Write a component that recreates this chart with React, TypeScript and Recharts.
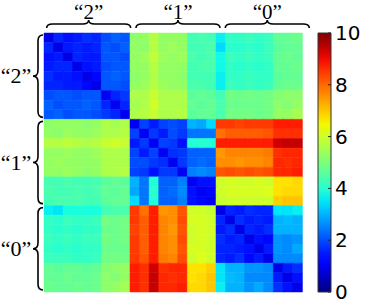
import { BarChart, Bar, Cell, XAxis, YAxis } from 'recharts';

// distance matrix, rows grouped by class "2", "1", "0" (9 samples each)
const rowsClass2: number[][] = [
  [0.9, 1.6, 1.4, 1.5, 1.7, 1.6, 2.0, 2.2, 2.1, 5.2, 5.3, 5.7, 5.3, 5.3, 5.3, 4.3, 4.4, 4.3, 3.6, 4.1, 4.1, 4.2, 4.1, 4.2, 4.7, 4.7, 4.8],
  [1.6, 0.9, 1.5, 1.6, 1.5, 1.6, 2.1, 2.0, 2.2, 5.3, 5.2, 5.7, 5.3, 5.4, 5.3, 4.3, 4.3, 4.4, 3.4, 4.0, 4.0, 4.1, 4.0, 4.2, 4.6, 4.7, 4.7],
  [1.4, 1.5, 0.9, 1.6, 1.5, 1.5, 2.1, 2.1, 2.0, 5.3, 5.4, 5.8, 5.4, 5.3, 5.4, 4.4, 4.3, 4.4, 3.7, 4.2, 4.1, 4.2, 4.1, 4.2, 4.7, 4.8, 4.7],
  [1.5, 1.6, 1.6, 0.9, 1.4, 1.5, 2.0, 2.1, 2.1, 5.3, 5.3, 5.7, 5.3, 5.3, 5.3, 4.3, 4.4, 4.4, 3.7, 4.1, 4.0, 4.1, 4.0, 4.1, 4.7, 4.7, 4.8],
  [1.7, 1.5, 1.5, 1.4, 0.9, 1.3, 2.1, 2.2, 2.1, 5.2, 5.3, 5.6, 5.3, 5.3, 5.2, 4.3, 4.3, 4.3, 3.6, 4.1, 4.1, 4.2, 4.1, 4.1, 4.6, 4.7, 4.7],
  [1.6, 1.6, 1.5, 1.5, 1.3, 0.9, 2.1, 2.1, 2.0, 5.3, 5.4, 5.7, 5.4, 5.3, 5.3, 4.4, 4.4, 4.3, 3.6, 4.2, 4.1, 4.2, 4.1, 4.2, 4.7, 4.8, 4.8],
  [2.0, 2.1, 2.1, 2.0, 2.1, 2.1, 1.0, 1.6, 1.8, 5.6, 5.6, 5.9, 5.6, 5.6, 5.6, 4.6, 4.7, 4.6, 4.3, 4.9, 4.8, 4.9, 4.8, 4.9, 5.1, 5.2, 5.2],
  [2.2, 2.0, 2.1, 2.1, 2.2, 2.1, 1.6, 1.0, 1.6, 5.5, 5.6, 6.0, 5.6, 5.6, 5.6, 4.7, 4.6, 4.7, 4.4, 4.8, 4.8, 4.8, 4.8, 4.9, 5.2, 5.1, 5.3],
  [2.1, 2.2, 2.0, 2.1, 2.1, 2.0, 1.8, 1.6, 1.0, 5.6, 5.7, 5.9, 5.6, 5.6, 5.7, 4.6, 4.7, 4.7, 4.4, 4.9, 4.9, 4.9, 4.8, 4.9, 5.3, 5.3, 5.5],
];

const rowsClass1: number[][] = [
  [5.2, 5.3, 5.3, 5.3, 5.2, 5.3, 5.6, 5.5, 5.6, 1.0, 1.9, 1.5, 1.9, 2.0, 1.9, 3.0, 2.9, 3.4, 8.5, 8.5, 8.4, 8.5, 8.5, 8.5, 8.8, 8.8, 8.8],
  [5.3, 5.2, 5.4, 5.3, 5.3, 5.4, 5.6, 5.6, 5.7, 1.9, 1.0, 1.8, 1.5, 2.0, 1.8, 2.4, 2.4, 2.4, 7.9, 8.1, 8.1, 8.1, 8.1, 8.2, 8.6, 8.6, 8.6],
  [5.7, 5.7, 5.8, 5.7, 5.6, 5.7, 5.9, 6.0, 5.9, 1.5, 1.8, 1.0, 1.9, 1.8, 1.4, 3.9, 4.0, 3.9, 8.8, 8.8, 8.8, 8.8, 8.8, 8.8, 9.3, 9.4, 9.4],
  [5.3, 5.3, 5.4, 5.3, 5.3, 5.4, 5.6, 5.6, 5.6, 1.9, 1.5, 1.9, 1.0, 1.7, 1.8, 2.2, 2.2, 2.2, 7.5, 7.7, 7.7, 7.7, 7.7, 7.8, 8.6, 8.7, 8.7],
  [5.3, 5.4, 5.3, 5.3, 5.3, 5.3, 5.6, 5.6, 5.6, 2.0, 2.0, 1.8, 1.7, 1.0, 1.8, 2.2, 2.3, 2.2, 7.6, 7.6, 7.5, 7.6, 7.6, 7.7, 8.7, 8.6, 8.7],
  [5.3, 5.3, 5.4, 5.3, 5.2, 5.3, 5.6, 5.6, 5.7, 1.9, 1.8, 1.4, 1.8, 1.8, 1.0, 2.5, 2.6, 2.5, 8.2, 8.3, 8.2, 8.3, 8.2, 8.3, 8.7, 8.7, 8.8],
  [4.3, 4.3, 4.4, 4.3, 4.3, 4.4, 4.6, 4.7, 4.6, 3.0, 2.4, 3.9, 2.2, 2.2, 2.5, 1.0, 1.4, 1.4, 6.0, 6.1, 6.0, 6.0, 6.1, 6.0, 6.7, 6.7, 6.8],
  [4.4, 4.3, 4.3, 4.4, 4.3, 4.4, 4.7, 4.6, 4.7, 2.9, 2.4, 4.0, 2.2, 2.3, 2.6, 1.4, 1.0, 1.3, 6.0, 6.1, 6.1, 6.1, 6.1, 6.2, 6.7, 6.8, 6.8],
  [4.3, 4.4, 4.4, 4.4, 4.3, 4.3, 4.6, 4.7, 4.7, 3.4, 2.4, 3.9, 2.2, 2.2, 2.5, 1.4, 1.3, 1.0, 5.9, 6.0, 6.0, 6.0, 6.0, 6.0, 6.9, 7.0, 7.0],
];

const rowsClass0: number[][] = [
  [3.6, 3.5, 3.8, 3.8, 3.8, 3.8, 4.3, 4.4, 4.4, 8.5, 7.9, 8.8, 7.5, 7.6, 8.2, 6.0, 6.0, 5.9, 0.9, 1.6, 1.5, 1.7, 1.6, 1.6, 3.5, 3.5, 3.6],
  [4.1, 4.0, 4.2, 4.1, 4.1, 4.2, 4.9, 4.8, 4.9, 8.5, 8.1, 8.8, 7.7, 7.6, 8.3, 6.1, 6.1, 6.0, 1.6, 0.9, 1.7, 1.5, 1.6, 1.5, 3.0, 3.1, 3.0],
  [4.1, 4.0, 4.1, 4.0, 4.1, 4.1, 4.8, 4.8, 4.9, 8.4, 8.1, 8.8, 7.7, 7.5, 8.2, 6.0, 6.1, 6.0, 1.5, 1.7, 0.9, 1.6, 1.5, 1.7, 3.0, 3.0, 3.0],
  [4.2, 4.1, 4.2, 4.1, 4.2, 4.2, 4.9, 4.8, 4.9, 8.5, 8.1, 8.8, 7.7, 7.6, 8.3, 6.0, 6.1, 6.0, 1.7, 1.5, 1.6, 0.9, 1.4, 1.3, 2.7, 2.6, 2.7],
  [4.1, 4.0, 4.1, 4.0, 4.1, 4.1, 4.8, 4.8, 4.8, 8.5, 8.1, 8.8, 7.7, 7.6, 8.2, 6.1, 6.1, 6.0, 1.6, 1.6, 1.5, 1.4, 0.9, 1.5, 2.7, 2.6, 2.9],
  [4.2, 4.2, 4.2, 4.1, 4.1, 4.2, 4.9, 4.9, 4.9, 8.5, 8.2, 8.8, 7.8, 7.7, 8.3, 6.0, 6.2, 6.0, 1.6, 1.5, 1.7, 1.3, 1.5, 0.9, 2.6, 2.6, 2.6],
  [4.7, 4.6, 4.7, 4.7, 4.6, 4.7, 5.1, 5.2, 5.3, 8.8, 8.6, 9.3, 8.6, 8.7, 8.7, 6.7, 6.7, 6.9, 3.5, 3.0, 3.0, 2.7, 2.7, 2.6, 0.9, 1.5, 1.7],
  [4.7, 4.7, 4.8, 4.7, 4.7, 4.8, 5.2, 5.1, 5.3, 8.8, 8.6, 9.4, 8.7, 8.6, 8.7, 6.7, 6.8, 7.0, 3.5, 3.1, 3.0, 2.6, 2.6, 2.6, 1.5, 0.9, 1.4],
  [4.8, 4.7, 4.7, 4.8, 4.7, 4.8, 5.2, 5.3, 5.5, 8.8, 8.6, 9.4, 8.7, 8.7, 8.8, 6.8, 6.8, 7.0, 3.6, 3.0, 3.0, 2.7, 2.9, 2.6, 1.7, 1.4, 0.9],
];

const groupLabels = ['“2”', '“1”', '“0”'];
const colorbarTicks = [0, 2, 4, 6, 8, 10];
const colorbarMax = 10;

const matrix = [...rowsClass2, ...rowsClass1, ...rowsClass0];
const N = matrix.length;
const groupSize = N / groupLabels.length;
const groupCenters = groupLabels.map((_, i) => i * groupSize + groupSize / 2);

// one entry per column, each row is a unit segment of the stack
const columnData = matrix[0].map((_, c) => {
  const d: Record<string, number> = { col: c };
  matrix.forEach((_, r) => { d[`r${r}`] = 1; });
  return d;
});

// matplotlib "jet" segment data
const JET_R = [[0, 0], [0.35, 0], [0.66, 1], [0.89, 1], [1, 0.5]];
const JET_G = [[0, 0], [0.125, 0], [0.375, 1], [0.64, 1], [0.91, 0], [1, 0]];
const JET_B = [[0, 0.5], [0.11, 1], [0.34, 1], [0.65, 0], [1, 0]];

function seg(pts: number[][], t: number) {
  for (let i = 1; i < pts.length; i++) {
    if (t <= pts[i][0]) {
      const [x0, y0] = pts[i - 1];
      const [x1, y1] = pts[i];
      return y0 + ((t - x0) / (x1 - x0)) * (y1 - y0);
    }
  }
  return pts[pts.length - 1][1];
}

function jet(v: number) {
  const t = Math.max(0, Math.min(1, v / colorbarMax));
  const c = (p: number[][]) => Math.round(seg(p, t) * 255);
  return `rgb(${c(JET_R)},${c(JET_G)},${c(JET_B)})`;
}

const W = 310;
const H = 304;
const TOP = 33;
const LEFT = 44;
const RIGHT = 8;
const BOTTOM = 12;
const cellW = (W - LEFT - RIGHT) / N;
const cellH = (H - TOP - BOTTOM) / N;
const serif = '"Liberation Serif", "DejaVu Serif", serif';

function TopBrace(props: any) {
  const { x, index } = props;
  const half = (groupSize * cellW) / 2 - 1;
  const x0 = x - half;
  const x1 = x + half;
  const yb = TOP - 5;
  const ym = yb - 4;
  const yt = yb - 8;
  const q = 6;
  const d = `M${x0},${yb} Q${x0},${ym} ${x0 + q},${ym} L${x - q},${ym} Q${x},${ym} ${x},${yt} Q${x},${ym} ${x + q},${ym} L${x1 - q},${ym} Q${x1},${ym} ${x1},${yb}`;
  return (
    <g>
      <path d={d} fill="none" stroke="#000" strokeWidth={1.6} />
      <text x={x} y={19} textAnchor="middle" fontFamily={serif} fontSize={21} fill="#000">
        {groupLabels[index]}
      </text>
    </g>
  );
}

function LeftBrace(props: any) {
  const { y, index } = props;
  const half = (groupSize * cellH) / 2 - 2;
  const y0 = y - half;
  const y1 = y + half;
  const xb = LEFT - 1;
  const xm = xb - 5;
  const xt = xb - 10;
  const q = 6;
  const d = `M${xb},${y0} Q${xm},${y0} ${xm},${y0 + q} L${xm},${y - q} Q${xm},${y} ${xt},${y} Q${xm},${y} ${xm},${y + q} L${xm},${y1 - q} Q${xm},${y1} ${xb},${y1}`;
  return (
    <g>
      <path d={d} fill="none" stroke="#000" strokeWidth={1.6} />
      <text x={16} y={y + 7} textAnchor="middle" fontFamily={serif} fontSize={22} fill="#000">
        {groupLabels[index]}
      </text>
    </g>
  );
}

function ColorbarTick(props: any) {
  const { x, y, payload } = props;
  return (
    <g>
      <line x1={x - 7} x2={x - 4} y1={y} y2={y} stroke="#222" strokeWidth={1} />
      <text x={x} y={y + 7} textAnchor="start" fontFamily='"DejaVu Sans", sans-serif' fontSize={20} fill="#000">
        {payload.value}
      </text>
    </g>
  );
}

const gradientStops = Array.from({ length: 21 }, (_, i) => i / 20);

export default function App() {
  return (
    <div style={{ position: 'absolute', left: 0, top: 0, width: 365, height: 304, background: '#fff' }}>
      <BarChart
        width={W}
        height={H}
        data={columnData}
        margin={{ top: 0, right: RIGHT, bottom: BOTTOM, left: 0 }}
        barCategoryGap={0}
        barGap={0}
      >
        <XAxis dataKey="col" hide />
        <XAxis
          xAxisId="grp"
          type="number"
          orientation="top"
          domain={[0, N]}
          ticks={groupCenters}
          interval={0}
          height={TOP}
          axisLine={false}
          tickLine={false}
          tick={TopBrace}
        />
        <YAxis
          type="number"
          domain={[0, N]}
          reversed
          ticks={groupCenters}
          interval={0}
          width={LEFT}
          axisLine={false}
          tickLine={false}
          tick={LeftBrace}
        />
        {matrix.map((row, r) => (
          <Bar key={r} dataKey={`r${r}`} stackId="m" isAnimationActive={false}>
            {row.map((v, c) => (
              <Cell key={c} fill={jet(v)} stroke={jet(v)} strokeWidth={0.5} />
            ))}
          </Bar>
        ))}
      </BarChart>
      <div style={{ position: 'absolute', left: 310, top: 0 }}>
        <BarChart
          width={55}
          height={H}
          data={[{ name: 'cb', v: colorbarMax }]}
          margin={{ top: TOP, right: 0, bottom: 12, left: 8 }}
          barCategoryGap={0}
        >
          <defs>
            <linearGradient id="jetGrad" x1="0" y1="1" x2="0" y2="0">
              {gradientStops.map((t) => (
                <stop key={t} offset={t} stopColor={jet(t * colorbarMax)} />
              ))}
            </linearGradient>
          </defs>
          <XAxis dataKey="name" hide />
          <YAxis
            orientation="right"
            domain={[0, colorbarMax]}
            ticks={colorbarTicks}
            interval={0}
            width={34}
            axisLine={false}
            tickLine={false}
            tickSize={0}
            tickMargin={4}
            tick={ColorbarTick}
          />
          <Bar dataKey="v" fill="url(#jetGrad)" stroke="#333" strokeWidth={1} isAnimationActive={false} />
        </BarChart>
      </div>
    </div>
  );
}
